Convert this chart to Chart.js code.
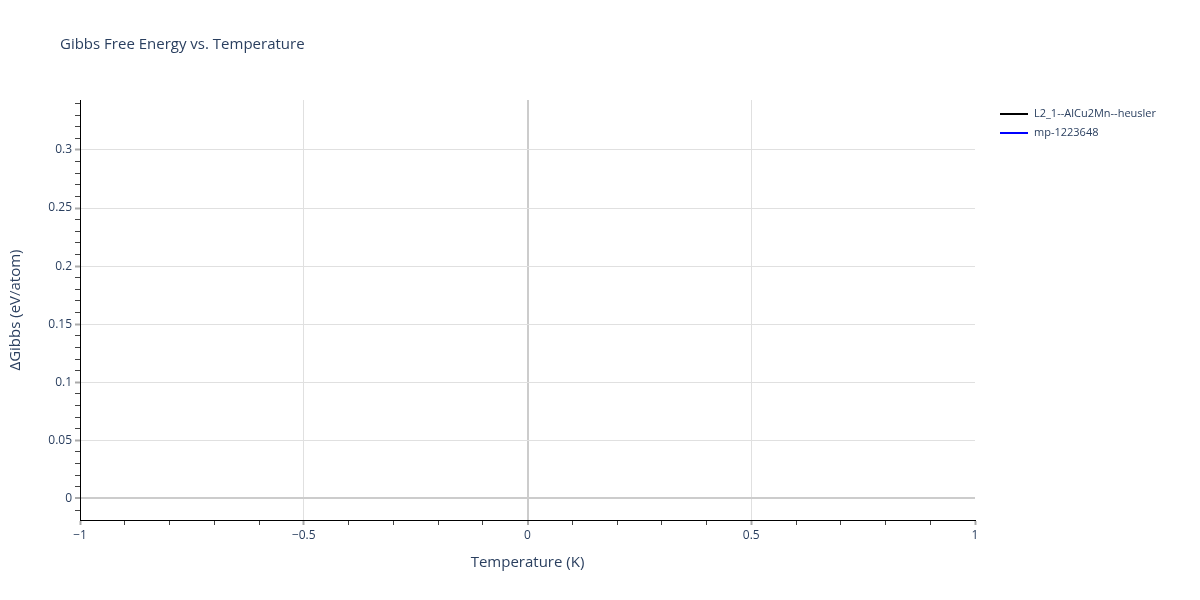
<!DOCTYPE html>
<html><head><meta charset="utf-8">
<script src="https://cdn.jsdelivr.net/npm/chart.js@4/dist/chart.umd.min.js"></script>
<style>html,body{margin:0;padding:0;background:#fff}#wrap{width:1200px;height:600px;position:relative}</style>
</head><body><div id="wrap"><canvas id="c" width="1200" height="600"></canvas></div>
<script>
const chartTitle = "Gibbs Free Energy vs. Temperature";
const xTitle = "Temperature (K)";
const yTitle = "ΔGibbs (eV/atom)";
const seriesNames = ["L2_1--AlCu2Mn--heusler", "mp-1223648"];
const seriesColors = ["#000000", "#0000ff"];
const seriesTemps = [[], []];
const seriesValues = [[], []];
const xMajorTicks = [-1, -0.5, 0, 0.5, 1];
const yMajorTicks = [0, 0.05, 0.1, 0.15, 0.2, 0.25, 0.3];
const xRange = [-1, 1];
const yRange = [-0.0186, 0.343];
const xMinorStep = 0.1, yMinorStep = 0.01;

const FONT = "'Open Sans', 'Noto Sans', sans-serif";
const TXT = "#2a3f5f";
const r = v => Math.round(v * 1e6) / 1e6;
const isMajor = (v, arr) => arr.some(m => Math.abs(m - v) < 1e-9);
const fmt = v => { const s = String(r(v)); return s.startsWith('-') ? '\u2212' + s.slice(1) : s; };

const datasets = seriesNames.map((n, i) => ({
  label: n,
  data: seriesTemps[i].map((t, j) => ({ x: t, y: seriesValues[i][j] })),
  borderColor: seriesColors[i], backgroundColor: seriesColors[i],
  showLine: true, pointRadius: 0, borderWidth: 2
}));

function gridColor(v, majors, edgeHide) {
  if (Math.abs(v) < 1e-9) return '#cccccc';
  if (edgeHide && (Math.abs(v - xRange[0]) < 1e-9 || Math.abs(v - xRange[1]) < 1e-9)) return 'rgba(0,0,0,0)';
  return isMajor(v, majors) ? '#e0e0e0' : 'rgba(0,0,0,0)';
}

const overlay = {
  id: 'overlay',
  afterDraw(chart) {
    const ctx = chart.ctx;
    ctx.save();
    ctx.fillStyle = TXT;
    ctx.textBaseline = 'middle';
    ctx.font = "15px " + FONT;
    ctx.textAlign = 'left';
    ctx.fillText(chartTitle, 60, 45);
    ctx.font = "15px " + FONT;
    ctx.textAlign = 'center';
    ctx.fillText(xTitle, 527.5, 563);
    ctx.save();
    ctx.translate(16, 310);
    ctx.rotate(-Math.PI / 2);
    ctx.fillText(yTitle, 0, 0);
    ctx.restore();
    ctx.font = "11px " + FONT;
    ctx.textAlign = 'left';
    seriesNames.forEach((n, i) => {
      const y = 114 + i * 19;
      ctx.strokeStyle = seriesColors[i];
      ctx.lineWidth = 2;
      ctx.beginPath(); ctx.moveTo(1000, y); ctx.lineTo(1028, y); ctx.stroke();
      ctx.fillStyle = TXT;
      ctx.fillText(n, 1034, y);
    });
    ctx.restore();
  }
};

new Chart(document.getElementById('c'), {
  type: 'scatter',
  data: { datasets },
  options: {
    responsive: false, animation: false, devicePixelRatio: 1,
    layout: { padding: { left: 0, right: 225, top: 100, bottom: 0 } },
    plugins: { legend: { display: false }, tooltip: { enabled: false }, title: { display: false } },
    scales: {
      x: {
        type: 'linear', min: xRange[0], max: xRange[1],
        afterFit: s => { s.height = 80; },
        afterBuildTicks: s => {
          const t = [];
          for (let v = xRange[0]; v <= xRange[1] + 1e-9; v += xMinorStep) t.push({ value: r(v) });
          s.ticks = t;
        },
        ticks: {
          autoSkip: false, maxRotation: 0, padding: 3,
          color: TXT, font: { family: FONT, size: 12 },
          callback: v => isMajor(v, xMajorTicks) ? fmt(v) : ''
        },
        grid: {
          drawTicks: true, tickLength: 5,
          color: c => gridColor(c.tick.value, xMajorTicks, true),
          lineWidth: c => Math.abs(c.tick.value) < 1e-9 ? 2 : 1,
          tickColor: c => isMajor(c.tick.value, xMajorTicks) ? '#aaaaaa' : '#444444',
          tickWidth: c => isMajor(c.tick.value, xMajorTicks) ? 2 : 1
        },
        border: { display: true, color: '#000000', width: 1 }
      },
      y: {
        type: 'linear', min: yRange[0], max: yRange[1],
        afterFit: s => { s.width = 80; },
        afterBuildTicks: s => {
          const t = [];
          for (let k = -1; k <= 34; k++) t.push({ value: r(k * yMinorStep) });
          s.ticks = t;
        },
        ticks: {
          autoSkip: false, padding: 3,
          color: TXT, font: { family: FONT, size: 12 },
          callback: v => isMajor(v, yMajorTicks) ? fmt(v) : ''
        },
        grid: {
          drawTicks: true, tickLength: 5,
          color: c => gridColor(c.tick.value, yMajorTicks, false),
          lineWidth: c => Math.abs(c.tick.value) < 1e-9 ? 2 : 1,
          tickColor: c => isMajor(c.tick.value, yMajorTicks) ? '#aaaaaa' : '#444444',
          tickWidth: c => isMajor(c.tick.value, yMajorTicks) ? 2 : 1
        },
        border: { display: true, color: '#000000', width: 1 }
      }
    }
  },
  plugins: [overlay]
});
</script></body></html>
